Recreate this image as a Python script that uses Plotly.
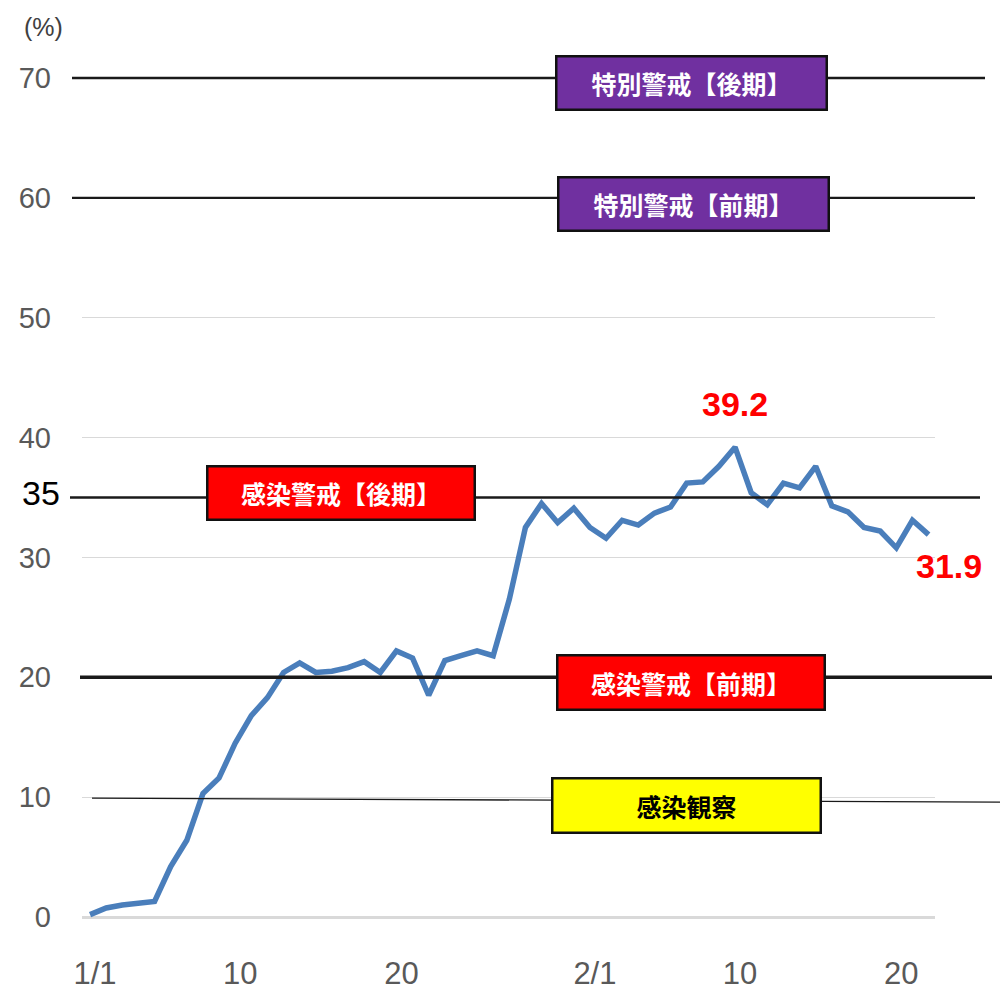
import pandas as pd
import plotly.graph_objects as go

# ---- data ----
start_date = "2022-01-01"
occupancy = [0.2, 0.75, 1.0, 1.1, 1.3, 4.2, 6.4, 10.3, 11.6, 14.5,
             16.8, 18.3, 20.4, 21.2, 20.4, 20.5, 20.8, 21.3, 20.4, 22.2,
             21.6, 18.5, 21.4, 21.8, 22.2, 21.8, 26.5, 32.5, 34.5, 32.9,
             34.1, 32.5, 31.6, 33.1, 32.7, 33.7, 34.2, 36.2, 36.3, 37.6,
             39.2, 35.4, 34.4, 36.2, 35.8, 37.6, 34.3, 33.8, 32.5, 32.2,
             30.8, 33.1, 31.9]
dates = pd.date_range(start_date, periods=len(occupancy), freq="D")

tick_dates = ["2022-01-01", "2022-01-10", "2022-01-20", "2022-02-01", "2022-02-10", "2022-02-20"]
tick_labels = ["1/1", "10", "20", "2/1", "10", "20"]
y_ticks = [0, 10, 20, 30, 40, 50, 60, 70]

thresholds = [70, 60, 35, 20, 10]
level_names = ["特別警戒【後期】", "特別警戒【前期】", "感染警戒【後期】", "感染警戒【前期】", "感染観察"]
level_colors = ["#7030A0", "#7030A0", "#FF0000", "#FF0000", "#FFFF00"]
level_text_colors = ["white", "white", "white", "white", "black"]

peak_label = "39.2"
last_label = "31.9"

# ---- layout geometry (pixels, in screenshot coordinates) ----
OFF = 8  # default page body margin
W, H = 1008 - OFF, 996 - OFF
L, R, T, B = 82, 935, 60, 930


def px_x(x):
    return (x - L) / (R - L)


def px_y(y):
    return (B - y) / (B - T)


fig = go.Figure()
fig.add_trace(go.Scatter(
    x=dates, y=occupancy, mode="lines",
    line=dict(color="#4A7EBB", width=5.5),
    hoverinfo="skip", showlegend=False,
))

x0 = pd.Timestamp(start_date) - pd.Timedelta(hours=12)
x1 = pd.Timestamp(start_date) + pd.Timedelta(days=52.4)

tickfam = "Liberation Sans, Arial, sans-serif"

fig.update_layout(
    width=W, height=H,
    margin=dict(l=L - OFF, r=1008 - R, t=T - OFF, b=996 - B),
    plot_bgcolor="white", paper_bgcolor="white",
    showlegend=False,
    xaxis=dict(
        range=[x0, x1], tickvals=tick_dates, ticktext=tick_labels,
        showgrid=False, zeroline=False, showline=False, ticks="",
        tickfont=dict(family=tickfam, size=31, color="#595959"),
        ticklabelstandoff=22, ticklabelshift=5, automargin=False,
    ),
    yaxis=dict(
        range=[-1.085, 71.5], tickvals=y_ticks,
        showgrid=True, gridcolor="#D9D9D9", gridwidth=1,
        zeroline=True, zerolinecolor="#D9D9D9", zerolinewidth=3,
        showline=False, ticks="",
        tickfont=dict(family=tickfam, size=29, color="#595959"),
        ticklabelstandoff=30, automargin=False,
    ),
)

# ---- threshold lines (extend beyond the plot area as in the original) ----
line_specs = [
    # (x start px, x end px, width, pixel drift at right end)
    (72, 985, 2.4, 0),
    (72, 975, 2.4, 0),
    (70, 980, 2.4, 0),
    (80, 992, 3.5, 0),
    (92, 1002, 1.3, -4),
]
for thr, (xs, xe, lw, drift) in zip(thresholds, line_specs):
    fig.add_shape(
        type="line", xref="paper", yref="y",
        ysizemode="pixel", yanchor=thr,
        x0=px_x(xs), x1=px_x(xe), y0=-1 if drift else 0, y1=drift - 1 if drift else 0,
        line=dict(color="#1a1a1a", width=lw), layer="above",
    )

# ---- level boxes ----
box_geom = [  # centre x, centre y, width, height (pixels)
    (691, 82.5, 268, 51),
    (693, 204.5, 268, 51),
    (341, 492.5, 265, 51),
    (690.5, 682, 265, 52),
    (686, 805, 266, 52),
]
cjk = "Noto Sans CJK JP, Noto Sans CJK SC, sans-serif"
for name, col, tcol, (cx, cy, bw, bh) in zip(level_names, level_colors, level_text_colors, box_geom):
    fig.add_annotation(
        xref="paper", yref="paper", x=px_x(cx), y=px_y(cy),
        xanchor="center", yanchor="middle",
        text=f"<b>{name}</b>", showarrow=False,
        font=dict(family=cjk, size=25, color=tcol),
        bgcolor=col, bordercolor="#111111", borderwidth=2.5, borderpad=0,
        width=bw, height=bh, align="center", valign="middle",
    )

# ---- value labels ----
fig.add_annotation(xref="paper", yref="paper", x=px_x(735), y=px_y(404),
                   text=f"<b>{peak_label}</b>", showarrow=False,
                   xanchor="center", yanchor="middle",
                   font=dict(family="Liberation Sans, Arial, sans-serif", size=34, color="#FF0000"))
fig.add_annotation(xref="paper", yref="paper", x=px_x(949), y=px_y(566),
                   text=f"<b>{last_label}</b>", showarrow=False,
                   xanchor="center", yanchor="middle",
                   font=dict(family="Liberation Sans, Arial, sans-serif", size=34, color="#FF0000"))

# "35" label on the axis and unit label
fig.add_annotation(xref="paper", yref="paper", x=px_x(41), y=px_y(493),
                   text="35", showarrow=False, xanchor="center", yanchor="middle",
                   font=dict(family="Liberation Sans, Arial, sans-serif", size=34, color="black"))
fig.add_annotation(xref="paper", yref="paper", x=px_x(43), y=px_y(27),
                   text="(%)", showarrow=False, xanchor="center", yanchor="middle",
                   font=dict(family="Liberation Sans, Arial, sans-serif", size=25, color="#404040"))

fig.write_html("out.html")
